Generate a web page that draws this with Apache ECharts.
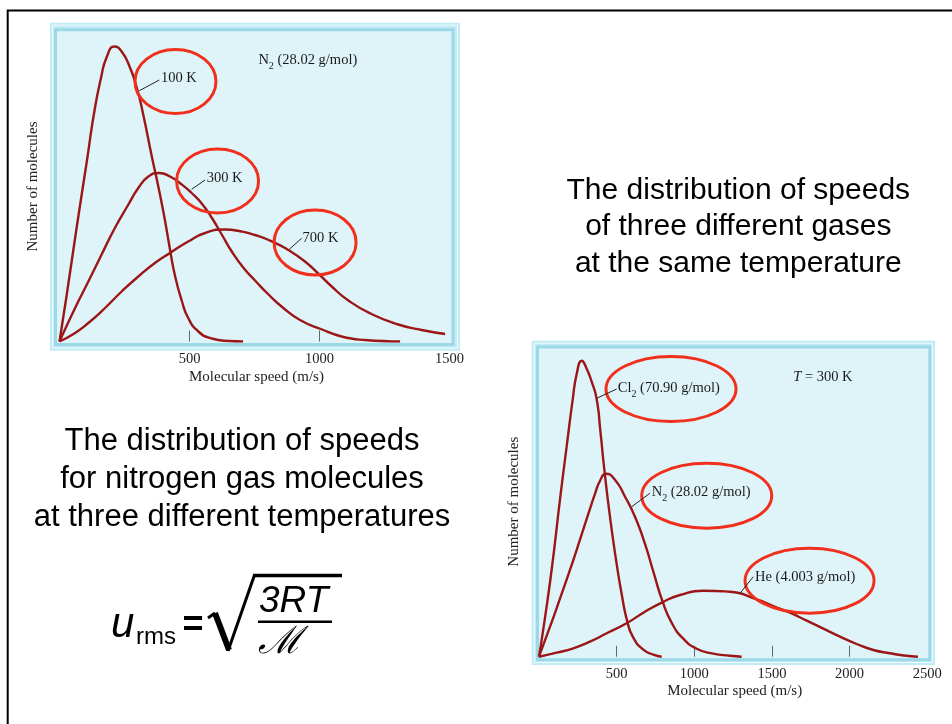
<!DOCTYPE html>
<html><head><meta charset="utf-8">
<script src="https://cdn.jsdelivr.net/npm/echarts@6/dist/echarts.min.js"></script>
<style>html,body{margin:0;padding:0;background:#fff}#c{width:952px;height:724px}</style>
</head><body><div id="c"></div>
<script>
// ---- Left chart: N2 at three temperatures (speed m/s, relative count) ----
const N2_100K = [[0,0],[28,47],[66,114],[105,180],[134,230],[160,264],[181,284],[211,295],[239,290],[271,274],[297,254],[322,227],[355,185],[380,155],[405,122],[425,92],[444,66],[470,41],[495,23.5],[534,10],[585,3],[649,0.5],[706,0]];
const N2_300K = [[0,0],[60,33.5],[111,60],[162,87],[213,113.5],[265,137],[303,153.5],[342,165],[383,168.5],[425,165],[470,157],[508,148.5],[547,138],[585,124],[624,107],[665,89],[713,72],[752,61],[800,48],[861,33.5],[925,21.5],[1005,12.5],[1085,5],[1175,1.5],[1310,0]];
const N2_700K = [[0,0],[60,8.5],[111,18.5],[175,33.5],[239,50],[303,65],[367,78.5],[425,88.5],[495,100],[560,108.5],[636,112],[700,110],[752,106.5],[822,99.5],[880,91.5],[944,80],[995,68],[1047,55],[1111,41],[1200,27.5],[1303,17],[1393,11.5],[1483,7.5]];
// ---- Right chart: three gases at 300 K ----
const CL2_300K = [[0,0],[49,50],[92,100],[135,157],[178,210],[217,257],[243,283],[275,296],[307,288],[339,275],[371,258],[395,226],[420,188],[457,140],[496,97],[532,63],[569,35],[607,19],[672,7],[736,2],[790,0]];
const N2_GAS_300K = [[0,0],[71,30],[135,58],[200,87],[264,117],[318,143],[361,163],[393,176],[431,183],[489,177],[554,160],[618,140],[682,113],[740,83],[794,56],[854,34],[929,18],[1015,8],[1122,3],[1230,1],[1305,0]];
const HE_300K = [[0,0],[114,4],[221,8.4],[328,15],[436,23.4],[564,33.4],[672,44],[794,54.4],[908,61.7],[1058,66],[1230,65],[1402,57.4],[1509,50.7],[1616,44],[1724,36],[1831,28],[1938,20],[2045,12.7],[2153,6.7],[2260,3.4],[2350,1.2],[2440,0]];
// ---- Ticks ----
const LEFT_TICKS = [500, 1000];
const LEFT_LABELS = [500, 1000, 1500];
const RIGHT_TICKS = [500, 1000, 1500, 2000];
const RIGHT_LABELS = [500, 1000, 1500, 2000, 2500];

const serif = '"Liberation Serif", "Times New Roman", serif';
const sans = '"Liberation Sans", Arial, sans-serif';
const CURVE = '#9b1616';
const RED = '#f0301c';

const chart = echarts.init(document.getElementById('c'), null, {renderer: 'canvas'});

function xAx(gi, max, ticks, labels, gap) {
  return {
    type: 'value', gridIndex: gi, min: 0, max: max,
    name: 'Molecular speed (m/s)', nameLocation: 'middle', nameGap: gap,
    nameTextStyle: {fontFamily: serif, fontSize: 15, color: '#222'},
    axisLine: {show: false}, splitLine: {show: false},
    axisTick: {show: true, inside: true, length: 11, customValues: ticks, lineStyle: {color: '#666', width: 1}},
    axisLabel: {customValues: labels, formatter: function (v) { return String(v); }, fontFamily: serif, fontSize: 14.5, color: '#222', margin: 10}
  };
}
function yAx(gi, gap) {
  return {
    type: 'value', gridIndex: gi, min: 0, max: 310,
    name: 'Number of molecules', nameLocation: 'middle', nameGap: gap,
    nameTextStyle: {fontFamily: serif, fontSize: 15, color: '#222'},
    axisLine: {show: false}, axisTick: {show: false}, axisLabel: {show: false}, splitLine: {show: false}
  };
}
function ser(gi, data) {
  return {type: 'line', xAxisIndex: gi, yAxisIndex: gi, data: data, smooth: 0.55,
    symbol: 'none', showSymbol: false, silent: true, z: 3,
    lineStyle: {color: CURVE, width: 2.4}};
}

chart.setOption({
  animation: false,
  grid: [
    {left: 59.5, top: 31.5, width: 1515 * 0.26, height: 310},
    {left: 539, top: 346.7, width: 2520 * 0.1553, height: 310}
  ],
  xAxis: [xAx(0, 1515, LEFT_TICKS, LEFT_LABELS, 28), xAx(1, 2520, RIGHT_TICKS, RIGHT_LABELS, 26.5)],
  yAxis: [yAx(0, 19), yAx(1, 17.5)],
  series: [ser(0, N2_100K), ser(0, N2_300K), ser(0, N2_700K), ser(1, CL2_300K), ser(1, N2_GAS_300K), ser(1, HE_300K)]
});

function P(gi, v, y) { return chart.convertToPixel({gridIndex: gi}, [v, y]); }

const g = [];
// slide border
g.push({type: 'rect', z: 0, shape: {x: 7.7, y: 10.5, width: 2000, height: 2000}, style: {fill: null, stroke: '#000', lineWidth: 2}});
// frames
function frame(x0, y0, x1, y1, ix0, iy0, ix1, iy1) {
  g.push({type: 'rect', z: 0, shape: {x: x0, y: y0, width: x1 - x0, height: y1 - y0}, style: {fill: '#c2ecf5'}});
  g.push({type: 'rect', z: 0, shape: {x: x0 + 2.5, y: y0 + 2.5, width: x1 - x0 - 5, height: y1 - y0 - 5}, style: {fill: null, stroke: '#f2fcfe', lineWidth: 1}});
  g.push({type: 'rect', z: 0, shape: {x: ix0, y: iy0, width: ix1 - ix0, height: iy1 - iy0}, style: {fill: '#dff4f9', stroke: '#9cd9e8', lineWidth: 3}});
}
frame(50, 22.7, 460, 350.7, 55.5, 29.8, 453, 344.6);
frame(531.7, 340.7, 935, 665, 537.5, 347, 929.8, 659.7);

function ellipse(gi, v, y, rx, ry) {
  const p = P(gi, v, y);
  g.push({type: 'ellipse', z: 10, shape: {cx: p[0], cy: p[1], rx: rx, ry: ry}, style: {fill: null, stroke: RED, lineWidth: 3}});
}
function leader(gi, a, b) {
  const p = P(gi, a[0], a[1]), q = P(gi, b[0], b[1]);
  g.push({type: 'line', z: 11, shape: {x1: p[0], y1: p[1], x2: q[0], y2: q[1]}, style: {stroke: '#222', lineWidth: 1}});
}
function label(gi, v, y, text, rich) {
  const p = P(gi, v, y);
  g.push({type: 'text', z: 12, x: p[0], y: p[1], style: {text: text, rich: rich, fontFamily: serif, fontSize: 14.5, fill: '#1a1a1a', align: 'left', verticalAlign: 'middle'}});
}
const subRich = {
  n: {fontFamily: serif, fontSize: 14.5, lineHeight: 22, fill: '#1a1a1a', verticalAlign: 'middle'},
  s: {fontFamily: serif, fontSize: 10, lineHeight: 10, fill: '#1a1a1a', verticalAlign: 'bottom'},
  i: {fontFamily: serif, fontSize: 14.5, lineHeight: 22, fontStyle: 'italic', fill: '#1a1a1a', verticalAlign: 'middle'}
};

// left annotations
ellipse(0, 446, 260, 40.5, 32);
ellipse(0, 608, 160.5, 41, 32);
ellipse(0, 983, 99, 41, 32.5);
leader(0, [307, 250.8], [384, 261.5]);
leader(0, [508, 152.2], [560, 161.5]);
leader(0, [884, 92.2], [931, 103.2]);
label(0, 390, 263.8, '100 K');
label(0, 566, 163.8, '300 K');
label(0, 935, 103.2, '700 K');
label(0, 765, 281.5, '{n|N}{s|2}{n| (28.02 g/mol)}', subRich);

// right annotations
ellipse(1, 850, 267.7, 65, 32.5);
ellipse(1, 1080, 161, 65, 32.5);
ellipse(1, 1742, 76, 64.5, 32.5);
leader(1, [371.5, 258.4], [500, 267.7]);
leader(1, [597, 150], [714, 163.4]);
leader(1, [1294, 63.4], [1380, 80]);
label(1, 507, 268.4, '{n|Cl}{s|2}{n| (70.90 g/mol)}', subRich);
label(1, 726, 164.4, '{n|N}{s|2}{n| (28.02 g/mol)}', subRich);
label(1, 1391, 79.4, 'He (4.003 g/mol)');
label(1, 1637, 279.4, '{i|T}{n| = 300 K}', subRich);

// slide texts
function slideText(x, y, txt, fs) {
  g.push({type: 'text', z: 12, x: x, y: y, style: {text: txt, fontFamily: sans, fontSize: fs, fill: '#000', align: 'center', verticalAlign: 'middle'}});
}
slideText(738.3, 190.5, 'The distribution of speeds', 30);
slideText(738.3, 227, 'of three different gases', 30);
slideText(738.3, 263.8, 'at the same temperature', 30);
slideText(242, 441, 'The distribution of speeds', 31);
slideText(242, 479, 'for nitrogen gas molecules', 31);
slideText(242, 517, 'at three different temperatures', 31);

// formula u_rms = sqrt(3RT / M)
g.push({type: 'text', z: 12, x: 111, y: 625, style: {text: 'u', fontFamily: sans, fontSize: 42, fontStyle: 'italic', fill: '#000', align: 'left', verticalAlign: 'middle'}});
g.push({type: 'text', z: 12, x: 136, y: 637.5, style: {text: 'rms', fontFamily: sans, fontSize: 24, fill: '#000', align: 'left', verticalAlign: 'middle'}});
g.push({type: 'text', z: 12, x: 193, y: 626, style: {text: '=', fontFamily: sans, fontSize: 36, fontWeight: 'bold', fill: '#000', align: 'center', verticalAlign: 'middle'}});
g.push({type: 'line', z: 12, shape: {x1: 208, y1: 618, x2: 215, y2: 613}, style: {stroke: '#000', lineWidth: 3}});
g.push({type: 'line', z: 12, shape: {x1: 215, y1: 613, x2: 229, y2: 650}, style: {stroke: '#000', lineWidth: 6}});
g.push({type: 'line', z: 12, shape: {x1: 228, y1: 651, x2: 254.5, y2: 575}, style: {stroke: '#000', lineWidth: 3}});
g.push({type: 'line', z: 12, shape: {x1: 253, y1: 575.5, x2: 342, y2: 575.5}, style: {stroke: '#000', lineWidth: 3.3}});
g.push({type: 'text', z: 12, x: 259, y: 602, style: {text: '3RT', fontFamily: sans, fontSize: 37, fontStyle: 'italic', fill: '#000', align: 'left', verticalAlign: 'middle'}});
g.push({type: 'line', z: 12, shape: {x1: 258, y1: 621.7, x2: 332, y2: 621.7}, style: {stroke: '#000', lineWidth: 2.5}});
g.push({type: 'text', z: 12, x: 258, y: 643, style: {text: 'ℳ', fontFamily: '"DejaVu Serif", serif', fontSize: 38, fontStyle: 'italic', fill: '#000', align: 'left', verticalAlign: 'middle'}});

chart.setOption({graphic: {elements: g}});
</script></body></html>
